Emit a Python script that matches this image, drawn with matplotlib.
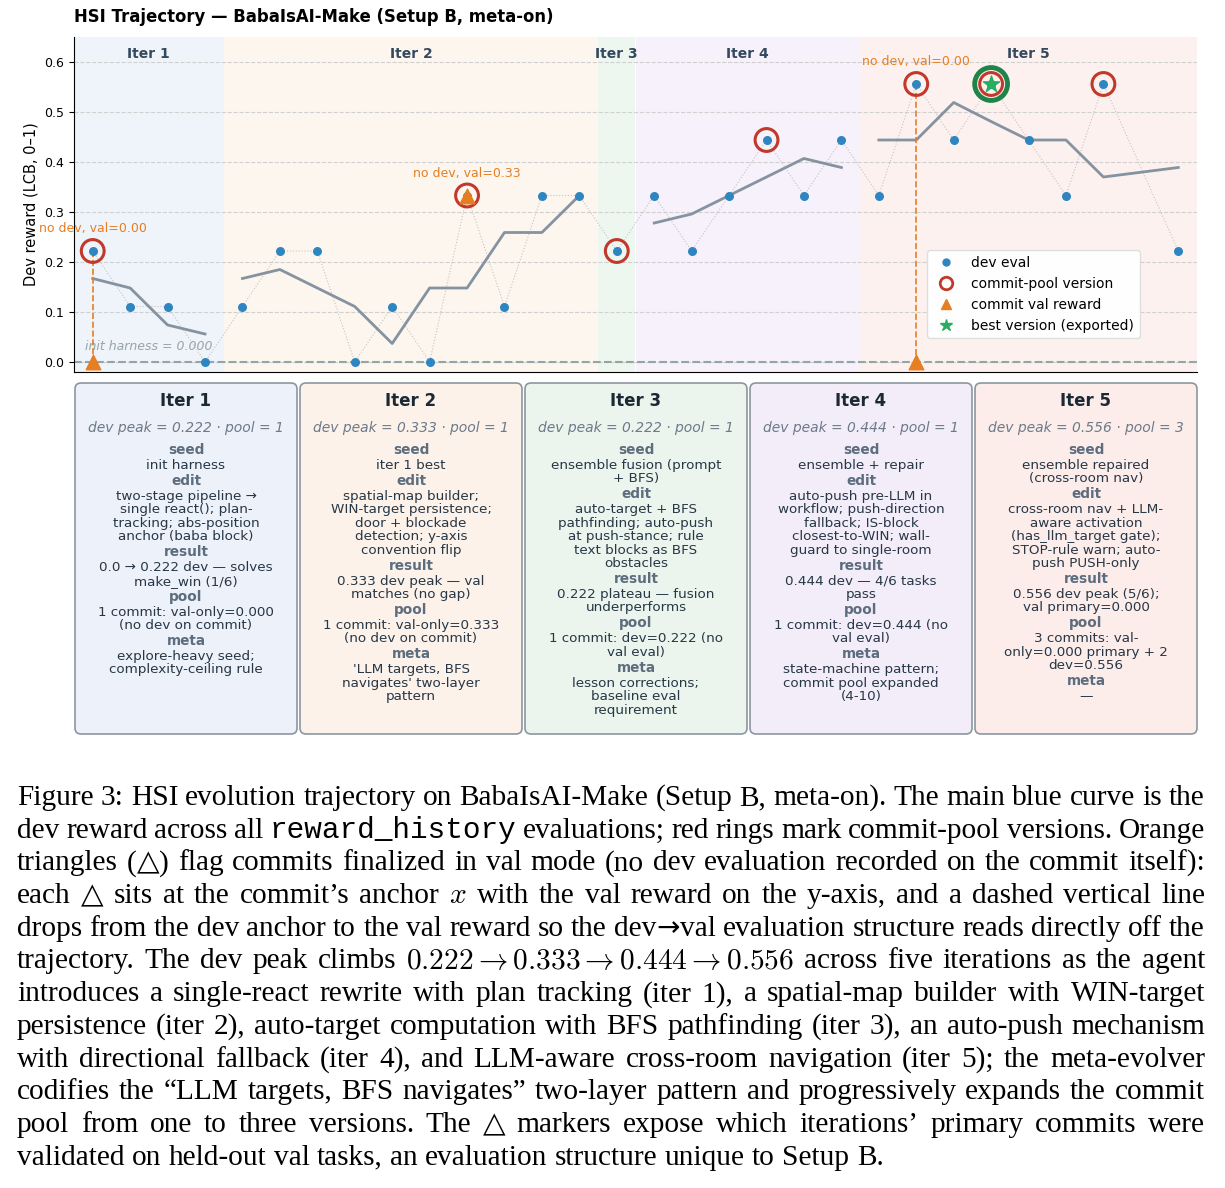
import textwrap
import matplotlib
matplotlib.use("Agg")
import matplotlib.pyplot as plt
from matplotlib.patches import FancyBboxPatch
from matplotlib.lines import Line2D

plt.rcParams['font.family'] = 'DejaVu Sans'
plt.rcParams['mathtext.fontset'] = 'cm'

# ---------------- data ----------------
eval_x = [0, 1, 2, 3, 4, 5, 6, 7, 8, 9, 10, 11, 12, 13, 14, 15, 16, 17, 18, 19,
          20, 21, 22, 23, 24, 25, 26, 27, 29]
dev_reward = [0.222, 0.111, 0.111, 0.0, 0.111, 0.222, 0.222, 0.0, 0.111, 0.0,
              0.333, 0.111, 0.333, 0.333, 0.222, 0.333, 0.222, 0.333, 0.444, 0.333,
              0.444, 0.333, 0.556, 0.444, 0.556, 0.444, 0.333, 0.556, 0.222]
trend_reward = [0.167, 0.148, 0.074, 0.056, 0.167, 0.185, 0.148, 0.111, 0.037, 0.148,
                0.148, 0.259, 0.259, 0.333, 0.222, 0.278, 0.296, 0.333, 0.370, 0.407,
                0.389, 0.444, 0.444, 0.519, 0.481, 0.444, 0.444, 0.370, 0.389]
eval_iter = [1] * 4 + [2] * 10 + [3] + [4] * 6 + [5] * 8

iter_names = ['Iter 1', 'Iter 2', 'Iter 3', 'Iter 4', 'Iter 5']
iter_bounds = [-0.5, 3.5, 13.5, 14.5, 20.5, 29.5]
dev_peak = [0.222, 0.333, 0.222, 0.444, 0.556]
pool_size = [1, 1, 1, 1, 3]

commit_x = [0, 10, 14, 18, 22, 24, 27]
commit_dev = [0.222, 0.333, 0.222, 0.444, 0.556, 0.556, 0.556]
val_x = [0, 10, 22]
val_anchor = [0.222, 0.333, 0.556]
val_reward = [0.0, 0.333, 0.0]
best_x = 24
best_dev = 0.556
init_reward = 0.0

seed_txt = ["init harness",
            "iter 1 best",
            "ensemble fusion (prompt + BFS)",
            "ensemble + repair",
            "ensemble repaired (cross-room nav)"]
edit_txt = ["two-stage pipeline → single react(); plan-tracking; abs-position anchor (baba block)",
            "spatial-map builder; WIN-target persistence; door + blockade detection; y-axis convention flip",
            "auto-target + BFS pathfinding; auto-push at push-stance; rule text blocks as BFS obstacles",
            "auto-push pre-LLM in workflow; push-direction fallback; IS-block closest-to-WIN; wall-guard to single-room",
            "cross-room nav + LLM-aware activation (has_llm_target gate); STOP-rule warn; auto-push PUSH-only"]
result_txt = ["0.0 → 0.222 dev — solves make_win (1/6)",
              "0.333 dev peak — val matches (no gap)",
              "0.222 plateau — fusion underperforms",
              "0.444 dev — 4/6 tasks pass",
              "0.556 dev peak (5/6); val primary=0.000"]
pool_txt = ["1 commit: val-only=0.000 (no dev on commit)",
            "1 commit: val-only=0.333 (no dev on commit)",
            "1 commit: dev=0.222 (no val eval)",
            "1 commit: dev=0.444 (no val eval)",
            "3 commits: val-only=0.000 primary + 2 dev=0.556"]
meta_txt = ["explore-heavy seed; complexity-ceiling rule",
            "'LLM targets, BFS navigates' two-layer pattern",
            "lesson corrections; baseline eval requirement",
            "state-machine pattern; commit pool expanded (4-10)",
            "—"]

caption_lines = [
    r"Figure 3: HSI evolution trajectory on BabaIsAI-Make (Setup B, meta-on). The main blue curve is the",
    r"dev reward across all `reward_history` evaluations; red rings mark commit-pool versions. Orange",
    r"triangles (△) flag commits finalized in val mode (no dev evaluation recorded on the commit itself):",
    r"each △ sits at the commit’s anchor $x$ with the val reward on the y-axis, and a dashed vertical line",
    r"drops from the dev anchor to the val reward so the dev→val evaluation structure reads directly off the",
    r"trajectory. The dev peak climbs $0.222\rightarrow0.333\rightarrow0.444\rightarrow0.556$ across five iterations as the agent",
    r"introduces a single-react rewrite with plan tracking (iter 1), a spatial-map builder with WIN-target",
    r"persistence (iter 2), auto-target computation with BFS pathfinding (iter 3), an auto-push mechanism",
    r"with directional fallback (iter 4), and LLM-aware cross-room navigation (iter 5); the meta-evolver",
    r"codifies the “LLM targets, BFS navigates” two-layer pattern and progressively expands the commit",
    r"pool from one to three versions. The △ markers expose which iterations’ primary commits were",
    r"validated on held-out val tasks, an evaluation structure unique to Setup B.",
]

span_colors = ['#eff4fa', '#fcf6ef', '#edf7f0', '#f6f1fa', '#fdf1ef']
box_colors = ['#edf1f9', '#fcf2ea', '#ebf5ed', '#f3edf9', '#fcedeb']
c_dev = '#2e86c1'
c_ring = '#c0392b'
c_val = '#e67e22'
c_best = '#27ae60'

W, H = 1225, 1188
fig = plt.figure(figsize=(W / 100, H / 100), dpi=100)


def fx(px):
    return px / W


def fy(py):
    return 1 - py / H


# ---------------- trajectory panel ----------------
ax = fig.add_axes([fx(74), fy(372), 1123 / W, 335 / H])

for i in range(5):
    ax.axvspan(iter_bounds[i], iter_bounds[i + 1], color=span_colors[i], lw=0, zorder=0)
    ax.text((iter_bounds[i] + iter_bounds[i + 1]) / 2, 0.617, iter_names[i], ha='center',
            va='center', fontsize=10, fontweight='bold', color='#34495e')

ax.axhline(init_reward, ls='--', color='#95a5a6', lw=1.5, zorder=1)
ax.text(1.5, 0.03, f'init harness = {init_reward:.3f}', style='italic', color='#95a5a6',
        fontsize=9, ha='center', va='center')

ax.plot(eval_x, dev_reward, ls=':', color='#c4c4c4', lw=0.8, zorder=2)
for k in range(1, 6):
    xs = [x for x, it in zip(eval_x, eval_iter) if it == k]
    ys = [y for y, it in zip(trend_reward, eval_iter) if it == k]
    ax.plot(xs, ys, color='#8593a0', lw=2, zorder=3)
ax.scatter(eval_x, dev_reward, s=30, color=c_dev, zorder=4)

ax.scatter(commit_x, commit_dev, s=270, facecolors='none', edgecolors=c_ring,
           linewidths=2.2, zorder=5)
ax.scatter([best_x], [best_dev], s=560, facecolors='none', edgecolors='#1e8449',
           linewidths=3.5, zorder=5)
ax.scatter([best_x], [best_dev], s=150, marker='*', color=c_best, zorder=6)

for x, a, v in zip(val_x, val_anchor, val_reward):
    if a != v:
        ax.plot([x, x], [a, v], ls='--', color=c_val, lw=1.2, zorder=3)
    ax.text(x, a + 0.045, f'no dev, val={v:.2f}', color=c_val, fontsize=9, ha='center',
            va='center')
ax.scatter(val_x, val_reward, s=110, marker='^', color=c_val, zorder=7)

ax.set_xlim(-0.5, 29.5)
ax.set_ylim(-0.02, 0.65)
ax.set_xticks([])
ax.set_yticks([0.0, 0.1, 0.2, 0.3, 0.4, 0.5, 0.6])
ax.tick_params(axis='y', labelsize=9)
ax.yaxis.grid(True, ls='--', color='#d0d0d0', lw=0.8)
ax.set_axisbelow(True)
for s in ['top', 'right']:
    ax.spines[s].set_visible(False)
ax.set_ylabel('Dev reward (LCB, 0–1)', fontsize=10.5)
ax.set_title('HSI Trajectory — BabaIsAI-Make (Setup B, meta-on)', loc='left',
             fontsize=11.9, fontweight='bold', pad=11)

handles = [
    Line2D([], [], marker='o', ls='', color=c_dev, markersize=5, label='dev eval'),
    Line2D([], [], marker='o', ls='', markerfacecolor='none', markeredgecolor=c_ring,
           markeredgewidth=2, markersize=9, label='commit-pool version'),
    Line2D([], [], marker='^', ls='', color=c_val, markersize=7, label='commit val reward'),
    Line2D([], [], marker='*', ls='', color=c_best, markersize=9,
           label='best version (exported)'),
]
ax.legend(handles=handles, loc='lower right', bbox_to_anchor=(0.949, 0.101),
          borderaxespad=0, fontsize=10, framealpha=0.95, edgecolor='#dddddd')

# ---------------- iteration cards ----------------
for i in range(5):
    x0 = 75 + i * 225
    box = FancyBboxPatch((fx(x0), fy(734)), 222 / W, 351 / H,
                         boxstyle='round,pad=0,rounding_size=0.005',
                         transform=fig.transFigure, facecolor=box_colors[i],
                         edgecolor='#8c96a0', lw=1.2)
    fig.add_artist(box)
    cx = fx(x0 + 111)
    fig.text(cx, fy(401), iter_names[i], ha='center', va='center', fontsize=12,
             fontweight='bold', color='#1c2833')
    fig.text(cx, fy(428), f'dev peak = {dev_peak[i]:.3f} · pool = {pool_size[i]}',
             ha='center', va='center', fontsize=10, style='italic', color='#6c7a89')
    y = 450
    sections = [('seed', seed_txt[i]), ('edit', edit_txt[i]), ('result', result_txt[i]),
                ('pool', pool_txt[i]), ('meta', meta_txt[i])]
    for head, body in sections:
        fig.text(cx, fy(y), head, ha='center', va='center', fontsize=9.8,
                 fontweight='bold', color='#5d6d7e')
        y += 15.5
        lines = textwrap.wrap(body, 24)
        for j, line in enumerate(lines):
            fig.text(cx, fy(y), line, ha='center', va='center', fontsize=9.7,
                     color='#273746')
            y += 13.4 if j < len(lines) - 1 else 15.5

# ---------------- caption (justified) ----------------
cap_fs = 21.2
cap_left, cap_right = 17, 1205
serif = dict(family='Liberation Serif', fontsize=cap_fs)
mono = dict(family='Liberation Mono', fontsize=cap_fs)
special = {'△': dict(family='DejaVu Sans', fontsize=cap_fs),
           '→': dict(family='DejaVu Sans', fontsize=cap_fs * 0.95)}


def split_parts(tok):
    if tok.startswith('`'):
        return [(tok.strip('`'), mono)]
    parts, buf = [], ''
    for ch in tok:
        if ch in special and '$' not in tok:
            if buf:
                parts.append((buf, serif))
                buf = ''
            parts.append((ch, special[ch]))
        else:
            buf += ch
    if buf:
        parts.append((buf, serif))
    return parts


renderer = fig.canvas.get_renderer()
for li, line in enumerate(caption_lines):
    base = 805 + li * 32.7
    words = []
    for tok in line.split(' '):
        arts = [fig.text(0, fy(base), s, va='baseline', **kw) for s, kw in split_parts(tok)]
        ws = [a.get_window_extent(renderer).width for a in arts]
        words.append((arts, ws))
    total = sum(sum(ws) for _, ws in words)
    if li < len(caption_lines) - 1:
        gap = (cap_right - cap_left - total) / (len(words) - 1)
    else:
        gap = cap_fs * 100 / 72 * 0.25
    x = cap_left
    for arts, ws in words:
        for a, w in zip(arts, ws):
            a.set_x(fx(x))
            x += w
        x += gap

fig.savefig('out.png', dpi=100)
